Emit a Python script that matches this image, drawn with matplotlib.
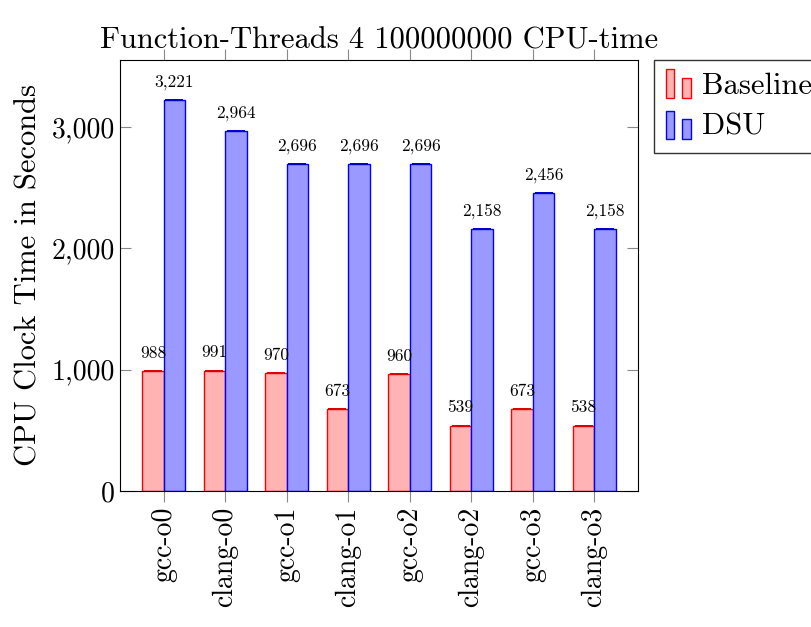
import numpy as np
import matplotlib
matplotlib.use("Agg")
import matplotlib.pyplot as plt
from matplotlib.ticker import FuncFormatter
from matplotlib.legend_handler import HandlerBase
from matplotlib.patches import Rectangle

plt.rcParams['font.family'] = 'serif'
plt.rcParams['font.serif'] = ['cmr10']
plt.rcParams['mathtext.fontset'] = 'cm'
plt.rcParams['axes.formatter.use_mathtext'] = True

# data
configs = ["gcc-o0", "clang-o0", "gcc-o1", "clang-o1", "gcc-o2", "clang-o2", "gcc-o3", "clang-o3"]
baseline = [988, 991, 970, 673, 960, 539, 673, 538]
dsu = [3221, 2964, 2696, 2696, 2696, 2158, 2456, 2158]

# pgfplots style bar icon for the legend
class BarIcon(HandlerBase):
    def create_artists(self, legend, orig_handle, xdescent, ydescent, width, height, fontsize, trans):
        w = width * 0.3
        r1 = Rectangle((-xdescent, -ydescent - 3), w, height + 5,
                       facecolor=orig_handle.get_facecolor(), edgecolor=orig_handle.get_edgecolor(),
                       lw=1, transform=trans)
        r2 = Rectangle((-xdescent + width * 0.6, -ydescent - 3), w, height * 0.75 + 3,
                       facecolor=orig_handle.get_facecolor(), edgecolor=orig_handle.get_edgecolor(),
                       lw=1, transform=trans)
        return [r1, r2]

fig = plt.figure(figsize=(8.11, 6.27), dpi=100)
ax = fig.add_axes([120/811, 1 - 491/627, 518/811, 431/627])

x = np.arange(len(configs))
w = 0.35
b1 = ax.bar(x - w/2, baseline, w, color="#ffb3b3", edgecolor="red", lw=1, label="Baseline")
b2 = ax.bar(x + w/2, dsu, w, color="#9999ff", edgecolor="blue", lw=1, label="DSU")
ax.errorbar(x - w/2, baseline, yerr=np.zeros(len(x)), fmt="none", ecolor="#dd0000", capsize=6.5, capthick=1.3)
ax.errorbar(x + w/2, dsu, yerr=np.zeros(len(x)), fmt="none", ecolor="#0000cc", capsize=6.5, capthick=1.3)

# value labels above the bars
for xi, v in zip(x - w/2, baseline):
    ax.annotate(f"{v:,}", (xi, v), xytext=(0, 9.5), textcoords="offset points", ha="center", va="baseline", fontsize=12.5)
for xi, v in zip(x + w/2, dsu):
    ax.annotate(f"{v:,}", (xi, v), xytext=(0, 9.5), textcoords="offset points", ha="center", va="baseline", fontsize=12.5)

ax.set_xlim(-0.71, 7.71)
ax.set_ylim(0, 3550)
ax.set_yticks([0, 1000, 2000, 3000])
ax.yaxis.set_major_formatter(FuncFormatter(lambda v, p: f"{int(v):,}"))
ax.set_xticks(x)
ax.set_xticklabels(configs, rotation=90, fontsize=20)
ax.tick_params(axis="y", labelsize=20, direction="in", right=True, color="#888888", length=8)
ax.tick_params(axis="x", direction="out", top=True, color="#888888", length=8)
ax.set_ylabel("CPU Clock Time in Seconds", fontsize=22)
ax.yaxis.set_label_coords(-0.149, 0.5)
ax.set_title("Function-Threads 4 100000000 CPU-time", fontsize=22, pad=8)

leg = ax.legend(handler_map={b1.patches[0].__class__: BarIcon()},
                handles=[b1.patches[0], b2.patches[0]], labels=["Baseline", "DSU"],
                loc="upper left", bbox_to_anchor=(1.03, 1.0), fontsize=22, frameon=True,
                fancybox=False, edgecolor="black", handlelength=0.9, handletextpad=0.3,
                borderpad=0.4, labelspacing=0.45, borderaxespad=0)
leg.get_frame().set_linewidth(1)

fig.savefig("out.png", dpi=100)
